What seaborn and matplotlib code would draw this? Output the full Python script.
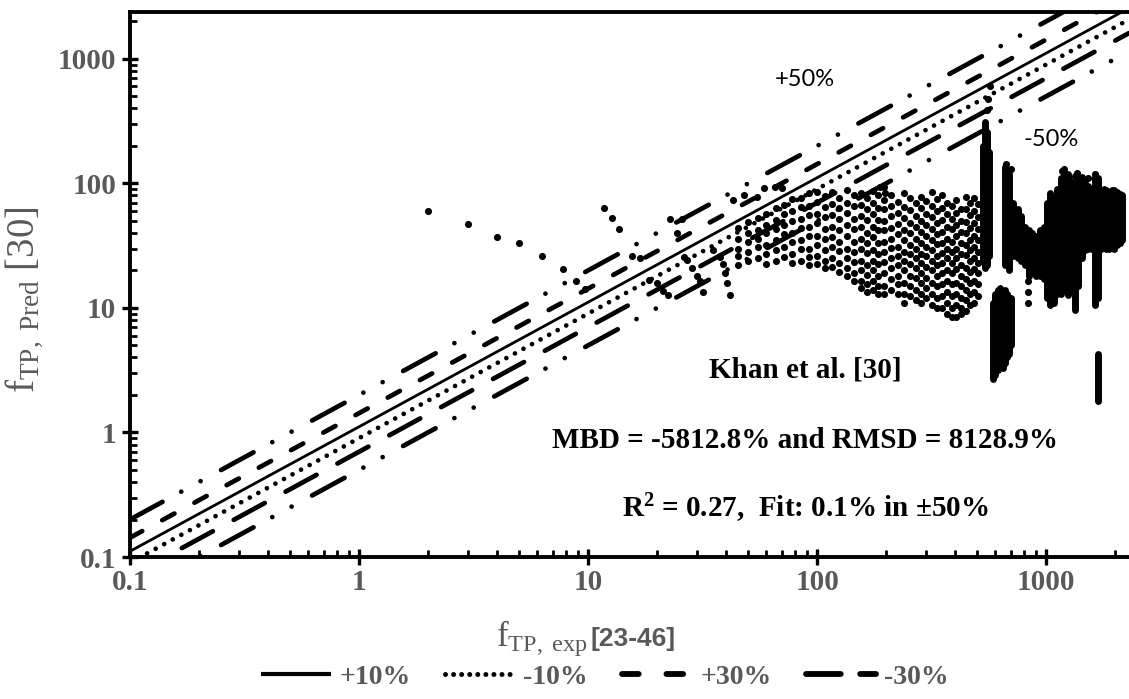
import numpy as np
import pandas as pd
import matplotlib
matplotlib.use("Agg")
import matplotlib.pyplot as plt
import seaborn as sns
from matplotlib.lines import Line2D

# ---------------- data ----------------
tick_values = [0.1, 1, 10, 100, 1000]
tick_labels = ["0.1", "1", "10", "100", "1000"]

ref_labels = ["+10%", "-10%", "+30%", "-30%", "+50%", "-50%"]
ref_factors = [1 / 0.9, 0.9, 1 / 0.7, 0.7, 2.0, 0.5]

# sparse points (left side)
sparse_x = [2, 3, 4, 5, 6.3, 7.8, 8.85, 9.7, 11.7, 12.7, 13.7, 15.5, 16.8, 18.4, 19.9,
            21.3, 22.4, 22.8, 25.7, 24.4, 26.1, 27, 28.3, 29.8, 30.8, 31.9, 35, 37.7,
            39, 39.6, 40.5, 41.7, 43, 47.8, 54.6, 58.5, 65.8, 70.4, 188, 198]
sparse_y = [60, 47, 37, 33, 26, 20.4, 16.3, 14.1, 63, 52.5, 42.8, 26, 25, 16.8, 15.8,
            13.8, 12.6, 51.5, 51.5, 39.8, 25.8, 24.3, 21, 17.9, 16.3, 13.5, 29, 25.8,
            22.7, 19, 16, 12.7, 73.6, 80.9, 78.4, 91, 94, 91, 94, 83]

# main hump, x 45-185 (column x, list of y)
hump_col_x = [45, 50, 55, 60, 66, 72, 78, 85, 92, 100, 108, 116, 125, 135, 145, 155, 165, 175, 185]
hump_col_y = [
    [44, 36, 30, 26, 22],
    [49, 40, 34, 28, 24],
    [53, 42, 36, 31, 25],
    [57, 46, 40, 32, 27, 22.5],
    [63, 51, 43, 35, 29, 24],
    [67, 57, 46, 39, 31, 25.5],
    [75, 60, 50, 40, 34, 27, 23],
    [77, 65, 52, 44, 35, 30, 24],
    [83, 66, 56, 45, 38, 30, 25.5, 22],
    [85, 71, 57, 48, 38, 32, 26, 22.5],
    [79, 65, 54, 43, 36, 29, 24, 21],
    [86, 68, 56, 45, 37, 31, 25, 21.5],
    [77, 63, 52, 42, 34, 28.5, 23, 19.5],
    [88, 70, 58, 46, 38, 30, 25, 21, 18],
    [80, 66, 52, 43, 34, 28, 23.5, 19, 16.5],
    [84, 67, 55, 45, 36, 30, 24, 20, 16.5, 14.5],
    [76, 62, 51, 40, 33, 27.5, 22, 18.5, 15.5, 13.5],
    [87, 70, 57, 45, 37, 29, 24, 20, 16.5, 14],
    [81, 64, 51, 42, 33, 27, 22.5, 18, 15, 13],
]

# middle cluster, x 195-505
mid_col_x = [195, 210, 225, 240, 255, 270, 285, 300, 318, 335, 352, 370, 388, 405, 425, 445, 465, 485, 505]
mid_col_y = [
    [93, 74, 62, 50, 42, 34, 28, 23.5, 19, 15, 13],
    [81, 66, 55, 44, 36, 30.5, 25, 21, 17, 14],
    [71, 58, 47, 39, 31, 26, 22, 18, 15.5, 13],
    [84, 65, 53, 42, 35, 28, 24, 20, 16, 13, 11],
    [77, 61, 48, 40, 32, 27, 22.5, 18, 15, 12.5],
    [69, 55, 45, 36, 30, 25, 21, 17.5, 14, 11.5],
    [78, 63, 50, 41, 33, 27, 23, 19, 16, 13, 11],
    [72, 57, 46, 38, 31, 26, 21.5, 17.5, 14.5, 12],
    [86, 66, 54, 43, 35, 29, 24, 20, 16, 13, 10.5],
    [75, 60, 48, 39, 32.5, 26, 22, 18, 15, 12, 10],
    [80, 64, 51, 41, 33, 27.5, 23, 19, 15.5, 12.5, 10],
    [70, 57, 45, 36, 30, 25, 20, 16.5, 13.5, 11, 9],
    [66, 52, 43, 34, 28, 23, 19, 15.5, 12.5, 10, 8.5],
    [73, 58, 46, 37.5, 30, 25, 20.5, 16, 13, 10.5, 8.5],
    [62, 50, 41, 33, 27, 22, 18, 15, 12, 10, 9],
    [78, 62, 49, 40, 32, 26.5, 21, 17, 14, 11.5, 9.5],
    [70, 56, 44, 35, 29, 24, 19.5, 16, 13, 10.5],
    [76, 60, 48, 38, 31, 25, 20.5, 16.5, 13.5, 11],
    [68, 54, 43, 35, 28, 23, 19, 15.5, 12.5],
]

# isolated points right side
right_pts_x = [550, 560, 566, 670, 700, 835, 835, 835, 1170, 1200, 1330, 1370, 1520, 1640]
right_pts_y = [390, 480, 600, 142, 130, 16.5, 13.5, 11, 125, 130, 115, 122, 110, 118]

# dense streaks: x with lowest and highest y of the solid band
streak_x = [528, 540, 552, 565,
            585, 600, 615, 630, 645, 660, 675, 690, 705,
            660, 690, 720, 750, 780, 810, 840, 870, 900, 940, 980, 1010, 1040, 1080,
            1120, 1160, 1200, 1240, 1290, 1330, 1380, 1430, 1480, 1530, 1580, 1630,
            1680, 1730, 1780, 1830, 1880, 1930, 1980, 2040, 2100, 2150,
            1680]
streak_lo = [24, 21, 22, 26,
             2.7, 2.9, 3.2, 3.5, 3.3, 3.6, 4.0, 4.3, 5.0,
             22, 20, 26, 25, 24, 22, 18, 19, 18, 18, 17, 12, 10.5, 11,
             13, 13, 14, 12.6, 14, 9.6, 15, 25, 29, 30, 30, 10.5,
             12, 30, 31, 30, 30, 31, 30, 32, 33, 35,
             1.8]
streak_hi = [200, 310, 260, 180,
             11, 13, 14, 14.5, 13.5, 14, 13, 12, 12,
             135, 120, 70, 62, 55, 45, 42, 40, 38, 42, 45, 70, 83, 75,
             90, 110, 122, 118, 105, 100, 110, 113, 100, 95, 90, 113,
             110, 89, 90, 88, 86, 89, 88, 85, 82, 80,
             4.3]

# ---------------- build tables ----------------
xs, ys = list(sparse_x), list(sparse_y)
for cx, cy in zip(hump_col_x, hump_col_y):
    xs += [cx] * len(cy)
    ys += cy
for cx, cy in zip(mid_col_x, mid_col_y):
    xs += [cx] * len(cy)
    ys += cy
xs += right_pts_x
ys += right_pts_y
points = pd.DataFrame({"x": xs, "y": ys})

# ---------------- style ----------------
sns.set_theme(style="white")
plt.rcParams["font.family"] = ["Liberation Serif", "DejaVu Serif"]
plt.rcParams["mathtext.fontset"] = "custom"
plt.rcParams["mathtext.rm"] = "Liberation Serif"
plt.rcParams["mathtext.it"] = "Liberation Serif:italic"
plt.rcParams["mathtext.bf"] = "Liberation Serif:bold"
plt.rcParams["lines.scale_dashes"] = False

GRAY = "#595959"
W, H = 1129, 699
fig = plt.figure(figsize=(W / 100, H / 100), dpi=100)
fig.patch.set_facecolor("white")
ax = fig.add_axes([130 / W, (H - 557) / H, (W - 130) / W, (557 - 11.5) / H])
ax.set_facecolor("white")
ax.set_xscale("log")
ax.set_yscale("log")
ax.set_xlim(0.1, 2300)
ax.set_ylim(0.1, 2400)

# reference lines
line_styles = {
    "+10%": dict(ls="-", lw=2.0),
    "-10%": dict(ls=(0, (0.01, 7.0)), lw=3.4),
    "+30%": dict(ls=(0, (10.0, 16.4)), lw=3.4),
    "-30%": dict(ls=(0, (25.4, 17.1)), lw=3.4),
    "+50%": dict(ls=(0, (26.6, 15.4, 0.01, 15.8, 0.01, 16.8)), lw=3.4),
    "-50%": dict(ls=(0, (26.6, 15.4, 0.01, 15.8, 0.01, 16.8)), lw=3.4),
}
xline = np.array(ax.get_xlim())
for lab, f in zip(ref_labels, ref_factors):
    st = line_styles[lab]
    ax.plot(xline, f * xline, color="black", linestyle=st["ls"], linewidth=st["lw"],
            dash_capstyle="round", solid_capstyle="round", zorder=2)

# dense streaks
lc = ax.vlines(streak_x, streak_lo, streak_hi, colors="black", linewidth=5.0, zorder=3)
lc.set_capstyle("round")

# scatter
sns.scatterplot(data=points, x="x", y="y", color="black", s=26, linewidth=0,
                ax=ax, legend=False, zorder=4)

# axes look
for side in ["left", "bottom", "top"]:
    ax.spines[side].set_visible(True)
    ax.spines[side].set_color("black")
    ax.spines[side].set_linewidth(2.8)
ax.spines["right"].set_visible(False)

ax.set_xticks(tick_values)
ax.set_xticklabels(tick_labels)
ax.set_yticks(tick_values)
ax.set_yticklabels(tick_labels)
ax.tick_params(axis="both", which="major", direction="inout", length=12, width=2.4,
               color="black", labelcolor=GRAY, labelsize=21, bottom=True, left=True,
               top=False, right=False)
ax.tick_params(axis="y", which="major", pad=4)
ax.tick_params(axis="x", which="major", pad=3)
ax.tick_params(axis="both", which="minor", direction="in", length=5, width=2.0,
               color="black", bottom=True, left=True, top=False, right=False)
for lbl in ax.get_xticklabels() + ax.get_yticklabels():
    lbl.set_fontweight("bold")
ax.set_xlabel("")
ax.set_ylabel("")
ax.grid(False)

# axis titles
fig.text(588 / W, 1 - 646 / H, r"f$_{\mathrm{TP,\ exp}}$", ha="right", va="baseline",
         fontsize=25, color=GRAY)
fig.text(590 / W, 1 - 646 / H, "[23-46]", ha="left", va="baseline", fontsize=19,
         fontweight="bold", color=GRAY, family=["Liberation Sans Narrow", "Liberation Sans"])
fig.text(24 / W, 1 - 300 / H, r"f$_{\mathrm{TP,\ Pred}}$ [30]", rotation=90, ha="center",
         va="center", fontsize=28, color=GRAY)

# annotations
fig.text(805 / W, 1 - 370 / H, "Khan et al. [30]", ha="center", va="center",
         fontsize=21, fontweight="bold", color="black")
fig.text(805 / W, 1 - 440 / H, "MBD = -5812.8% and RMSD = 8128.9%", ha="center",
         va="center", fontsize=21, fontweight="bold", color="black")
fig.text(805 / W, 1 - 508 / H, r"R$^{\mathbf{2}}$ = 0.27,  Fit: 0.1% in ±50%", ha="center",
         va="center", fontsize=21, fontweight="bold", color="black")
fig.text(805 / W, 1 - 80 / H, "+50%", ha="center", va="center", fontsize=17,
         color="black", family=["Lato", "DejaVu Sans"])
fig.text(1051 / W, 1 - 140 / H, "-50%", ha="center", va="center", fontsize=17,
         color="black", family=["Lato", "DejaVu Sans"])

# legend (thicker handles, as in the reference)
leg_labels = ["+10%", "-10%", "+30%", "-30%"]
leg_handles = [
    Line2D([], [], color="black", linestyle="-", linewidth=3.0, solid_capstyle="butt"),
    Line2D([], [], color="black", linestyle=(0, (0.01, 5.8)), linewidth=3.6, dash_capstyle="round"),
    Line2D([], [], color="black", linestyle=(0, (12.0, 20.0)), linewidth=4.2, dash_capstyle="round"),
    Line2D([], [], color="black", linestyle=(0, (25.0, 14.0)), linewidth=4.2, dash_capstyle="round"),
]
leg = fig.legend(leg_handles, leg_labels, loc="center",
                 bbox_to_anchor=(605 / W, 1 - 677 / H), ncol=4, frameon=False,
                 handlelength=2.5, handletextpad=0.3, columnspacing=1.25,
                 prop={"family": "Liberation Serif", "weight": "bold", "size": 20})
for t in leg.get_texts():
    t.set_color(GRAY)

fig.savefig("out.png", dpi=100, facecolor="white")
